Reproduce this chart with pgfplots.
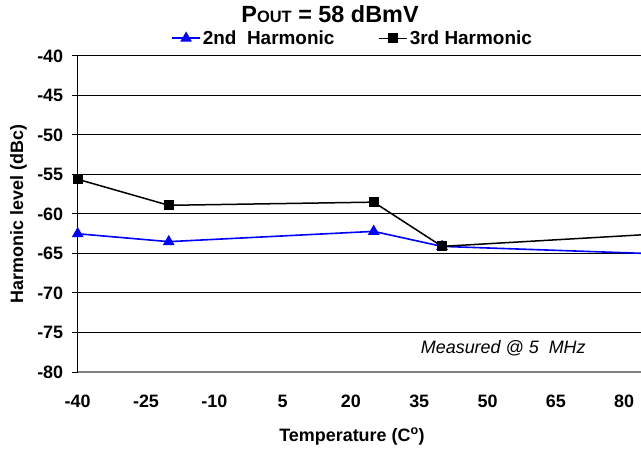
\documentclass[border=0pt]{standalone}
\usepackage{fontspec}
\setmainfont{Liberation Sans}
\usepackage{pgfplots}
\pgfplotsset{compat=1.18}
\definecolor{harmblue}{RGB}{0,0,255}
\definecolor{axisgray}{RGB}{128,128,128}

\begin{document}
\begin{tikzpicture}
\path[use as bounding box] (0,0) rectangle (641bp,449bp);
\begin{axis}[
  at={(77.7bp,77bp)}, anchor=south west,
  scale only axis, width=563.3bp, height=316bp,
  xmin=-40, xmax=83.7, ymin=-80, ymax=-40,
  xtick={-40,-25,...,80}, ytick={-80,-75,...,-40},
  axis x line*=bottom, axis y line*=left,
  x axis line style={draw=axisgray, line width=1.8bp},
  y axis line style={draw=black, line width=1bp},
  ymajorgrids, grid style={black, line width=1bp},
  tick align=outside, major tick length=6bp,
  xtick style={draw=none}, ytick style={black, line width=1bp},
  tick label style={font=\fontsize{18}{20}\selectfont\bfseries},
  x tick label style={anchor=base, yshift=-29bp},
  y tick label style={xshift=-5bp},
  /pgf/number format/assume math mode=true,
  label style={font=\fontsize{18}{20}\selectfont\bfseries},
  xlabel={Temperature (C\textsuperscript{o})},
  xlabel style={at={(axis description cs:0.487,-0.2184)}, anchor=base},
  ylabel={Harmonic level (dBc)},
  ylabel style={at={(axis description cs:-0.105,0.5)}, anchor=center},
  title={P{\fontsize{16.5}{18}\selectfont OUT} = 58 dBmV},
  title style={at={(axis description cs:0.448,1)}, anchor=base, yshift=27.5bp,
    font=\fontsize{23.5}{26}\selectfont\bfseries},
  legend columns=2,
  legend style={at={(axis description cs:0.488,1)}, anchor=center, yshift=17.7bp,
    draw=none, fill=none, font=\fontsize{19}{21}\selectfont\bfseries,
    /tikz/every even column/.append style={column sep=42bp}},
  legend image code/.code={\draw[mark repeat=2,mark phase=2] plot coordinates {(0bp,0bp)(14bp,0bp)(28bp,0bp)};},
  clip=true,
]
% 2nd harmonic
\addplot[harmblue, line width=1.6bp, mark=triangle*, mark size=5.2bp, mark options={solid}]
  coordinates {(-40,-62.5) (-20,-63.5) (25,-62.2) (40,-64.1) (85,-65.0)};
\addlegendentry{2nd\ \ Harmonic}
% 3rd harmonic
\addplot[black, line width=1.5bp, mark=square*, mark size=4.3bp, mark options={solid}]
  coordinates {(-40,-55.6) (-20,-58.9) (25,-58.5) (40,-64.1) (85,-62.6)};
\addlegendentry{3rd Harmonic}
\node[anchor=west, font=\fontsize{18}{20}\selectfont\itshape] at (axis cs:34.6,-77) {Measured @ 5\ \ MHz};
\end{axis}
\end{tikzpicture}
\end{document}
